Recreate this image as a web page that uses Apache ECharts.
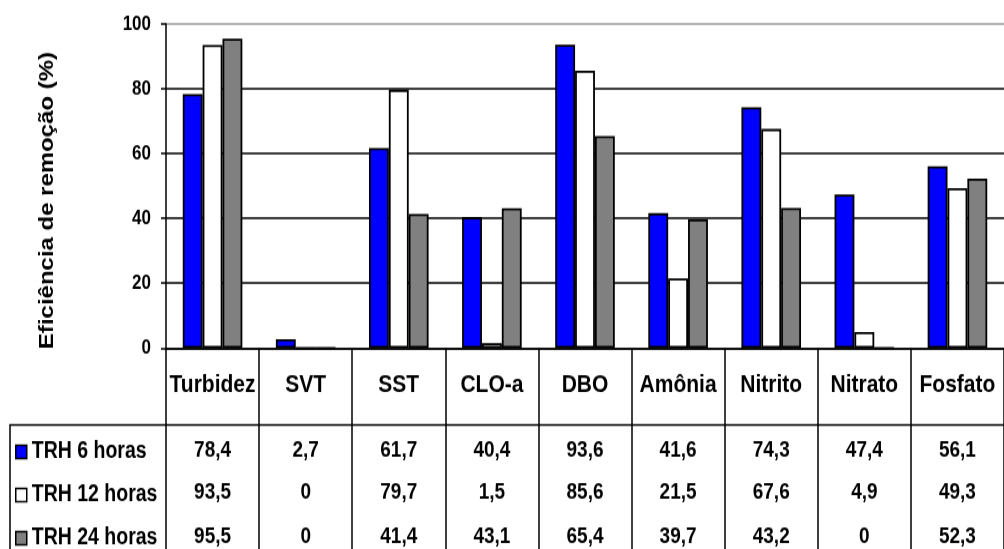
<!DOCTYPE html>
<html>
<head>
<meta charset="utf-8">
<script src="https://cdn.jsdelivr.net/npm/echarts@6/dist/echarts.min.js"></script>
<style>
  html, body { margin: 0; padding: 0; background: #fff; width: 1004px; height: 549px; overflow: hidden; }
  #wrap { position: relative; width: 1004px; height: 549px; overflow: hidden; }
  /* chart is drawn at 1004x458 and stretched vertically to fill the 549px page */
  #chart { position: absolute; left: 0; top: 0; width: 1004px; height: 458px; transform: scaleY(1.19869); transform-origin: 0 0; }
</style>
</head>
<body>
<div id="wrap"><div id="chart"></div></div>
<script>
// Removal efficiency (%) per parameter for three hydraulic retention times
const categories = ['Turbidez', 'SVT', 'SST', 'CLO-a', 'DBO', 'Amônia', 'Nitrito', 'Nitrato', 'Fosfato'];
const trh6  = [78.4, 2.7, 61.7, 40.4, 93.6, 41.6, 74.3, 47.4, 56.1];
const trh12 = [93.5, 0, 79.7, 1.5, 85.6, 21.5, 67.6, 4.9, 49.3];
const trh24 = [95.5, 0, 41.4, 43.1, 65.4, 39.7, 43.2, 0, 52.3];
const seriesNames = ['TRH 6 horas', 'TRH 12 horas', 'TRH 24 horas'];
const seriesColors = ['#0000FF', '#FFFFFF', '#808080'];
const yMin = 0, yMax = 100, yStep = 20;
const yTitle = 'Eficiência de remoção (%)';

const rows = [trh6, trh12, trh24];
const FONT = '"Liberation Sans", Arial, sans-serif';
const fmt = v => String(v).replace('.', ',');

const chart = echarts.init(document.getElementById('chart'), null, { renderer: 'canvas' });

// data-table rows under the category axis: one label-only axis per series
const rowMargins = [76, 111, 148];
const tableAxes = rows.map((vals, k) => ({
  type: 'category',
  gridIndex: 0,
  position: 'bottom',
  data: categories,
  axisLine: { show: false },
  axisTick: { show: false },
  splitLine: { show: false },
  axisLabel: {
    interval: 0,
    margin: rowMargins[k],
    fontFamily: FONT,
    fontWeight: 'bold',
    fontSize: 19,
    color: '#000',
    formatter: (v, i) => fmt(vals[i])
  }
}));

chart.setOption({
  animation: false,
  backgroundColor: '#fff',
  grid: { left: 166, right: -13, top: 20, bottom: 167.7, containLabel: false },
  legend: {
    data: seriesNames,
    orient: 'vertical',
    left: 15,
    top: 367,
    height: 140,
    padding: 0,
    icon: 'rect',
    itemWidth: 11,
    itemHeight: 11,
    itemGap: 16,
    selectedMode: false,
    itemStyle: { borderColor: '#000', borderWidth: 1.5 },
    textStyle: { fontFamily: FONT, fontWeight: 'bold', fontSize: 19.5, color: '#000' }
  },
  xAxis: [
    {
      type: 'category',
      data: categories,
      position: 'bottom',
      axisLine: { show: true, lineStyle: { color: '#000', width: 1.5 } },
      axisTick: { show: true, length: 170, lineStyle: { color: '#000', width: 1.5 } },
      splitLine: { show: false },
      axisLabel: {
        interval: 0,
        margin: 20,
        fontFamily: FONT,
        fontWeight: 'bold',
        fontSize: 21,
        color: '#000'
      }
    }
  ].concat(tableAxes),
  yAxis: {
    type: 'value',
    min: yMin,
    max: yMax,
    interval: yStep,
    axisLine: { show: true, lineStyle: { color: '#000', width: 1.5 } },
    axisTick: { show: true, length: 5, lineStyle: { color: '#000', width: 1.5 } },
    axisLabel: {
      margin: 15,
      fontFamily: FONT,
      fontWeight: 'bold',
      fontSize: 17,
      color: '#000'
    },
    splitLine: {
      show: true,
      lineStyle: { color: ['#000', '#000', '#000', '#000', '#000', '#9a9a9a'], width: 1.5 }
    }
  },
  series: rows.map((vals, k) => ({
    name: seriesNames[k],
    type: 'bar',
    xAxisIndex: 0,
    data: vals,
    barGap: '0%',
    barCategoryGap: '36%',
    itemStyle: { color: seriesColors[k], borderColor: '#000', borderWidth: 1.8 }
  })),
  graphic: [
    {
      // legend box border (top and left edges of the data table)
      type: 'rect',
      shape: { x: 10, y: 354.6, width: 1200, height: 300 },
      style: { fill: 'none', stroke: '#000', lineWidth: 1.5 },
      silent: true
    },
    {
      type: 'text',
      x: 47,
      y: 167.3,
      rotation: Math.PI / 2,
      style: {
        text: yTitle,
        font: 'bold 20px "Liberation Sans", Arial, sans-serif',
        align: 'center',
        verticalAlign: 'middle',
        fill: '#000'
      },
      silent: true
    }
  ]
});
</script>
</body>
</html>
